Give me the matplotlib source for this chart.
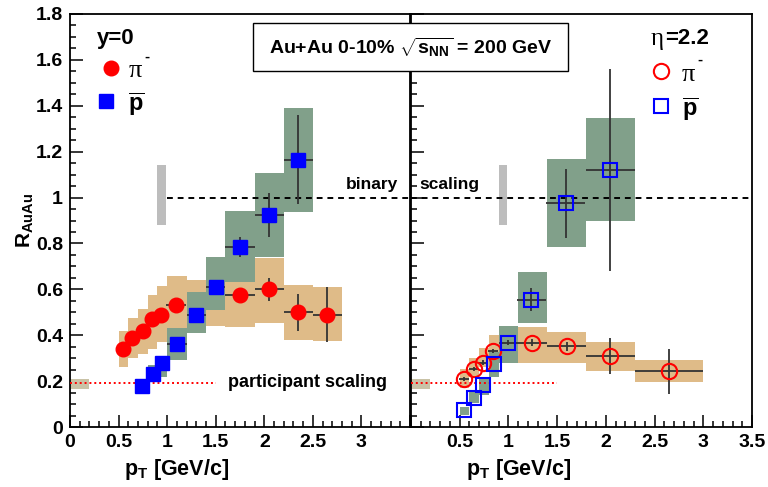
import numpy as np
import matplotlib
matplotlib.use('Agg')
import matplotlib.pyplot as plt
from matplotlib.patches import Rectangle

plt.rcParams['font.family'] = ['Liberation Sans', 'DejaVu Sans']
plt.rcParams['font.weight'] = 'bold'
plt.rcParams['mathtext.fontset'] = 'custom'
plt.rcParams['mathtext.rm'] = 'Liberation Sans:bold'
plt.rcParams['mathtext.bf'] = 'Liberation Sans:bold'
plt.rcParams['mathtext.it'] = 'Liberation Sans:bold'

# ---- y=0 (left panel) ----
pi0_pt = [0.55, 0.64, 0.75, 0.84, 0.94, 1.09, 1.75, 2.05, 2.35, 2.65]
pi0_r = [0.34, 0.39, 0.42, 0.47, 0.49, 0.53, 0.575, 0.60, 0.50, 0.49]
pi0_xerr = [0.05, 0.05, 0.05, 0.05, 0.05, 0.1, 0.15, 0.15, 0.15, 0.15]
pi0_yerr = [0.01, 0.01, 0.01, 0.01, 0.01, 0.015, 0.01, 0.05, 0.08, 0.12]
pi0_sys_xlo = [0.5, 0.6, 0.7, 0.8, 0.9, 1.0, 1.2, 1.6, 1.9, 2.2, 2.5]
pi0_sys_xhi = [0.6, 0.7, 0.8, 0.9, 1.0, 1.2, 1.6, 1.9, 2.2, 2.5, 2.8]
pi0_sys_ylo = [0.26, 0.30, 0.32, 0.34, 0.37, 0.39, 0.44, 0.435, 0.455, 0.38, 0.375]
pi0_sys_yhi = [0.42, 0.475, 0.515, 0.575, 0.615, 0.66, 0.64, 0.63, 0.735, 0.62, 0.61]

pb0_pt = [0.74, 0.85, 0.95, 1.10, 1.30, 1.50, 1.75, 2.05, 2.35]
pb0_r = [0.18, 0.23, 0.28, 0.36, 0.49, 0.61, 0.785, 0.925, 1.165]
pb0_xerr = [0.05, 0.05, 0.05, 0.1, 0.1, 0.1, 0.15, 0.15, 0.15]
pb0_yerr = [0.01, 0.01, 0.01, 0.015, 0.02, 0.02, 0.045, 0.095, 0.195]
pb0_sys_xlo = [0.7, 0.8, 0.9, 1.0, 1.2, 1.4, 1.6, 1.9, 2.2]
pb0_sys_xhi = [0.8, 0.9, 1.0, 1.2, 1.4, 1.6, 1.9, 2.2, 2.5]
pb0_sys_ylo = [0.16, 0.20, 0.22, 0.29, 0.41, 0.51, 0.63, 0.74, 0.935]
pb0_sys_yhi = [0.20, 0.27, 0.29, 0.43, 0.59, 0.74, 0.94, 1.105, 1.39]

# ---- eta=2.2 (right panel) ----
pi2_pt = [0.545, 0.65, 0.74, 0.845, 1.245, 1.60, 2.045, 2.65]
pi2_r = [0.21, 0.253, 0.281, 0.332, 0.367, 0.351, 0.311, 0.242]
pi2_xerr = [0.05, 0.05, 0.05, 0.05, 0.15, 0.2, 0.25, 0.35]
pi2_yerr = [0.01, 0.01, 0.01, 0.01, 0.015, 0.02, 0.078, 0.098]
pi2_sys_xlo = [0.5, 0.6, 0.7, 0.8, 1.1, 1.4, 1.8, 2.3]
pi2_sys_xhi = [0.6, 0.7, 0.8, 0.9, 1.4, 1.8, 2.3, 3.0]
pi2_sys_ylo = [0.17, 0.22, 0.26, 0.285, 0.28, 0.28, 0.246, 0.194]
pi2_sys_yhi = [0.252, 0.30, 0.344, 0.40, 0.438, 0.416, 0.37, 0.29]

pb2_pt = [0.54, 0.65, 0.74, 0.85, 1.0, 1.235, 1.59, 2.045]
pb2_r = [0.074, 0.128, 0.183, 0.275, 0.368, 0.555, 0.975, 1.12]
pb2_xerr = [0.0, 0.0, 0.0, 0.0, 0.1, 0.15, 0.2, 0.25]
pb2_yerr = [0.0, 0.0, 0.0, 0.0, 0.01, 0.05, 0.15, 0.44]
pb2_sys_xlo = [0.5, 0.6, 0.7, 0.8, 0.9, 1.1, 1.4, 1.8]
pb2_sys_xhi = [0.6, 0.7, 0.8, 0.9, 1.1, 1.4, 1.8, 2.3]
pb2_sys_ylo = [0.052, 0.103, 0.14, 0.22, 0.278, 0.453, 0.783, 0.90]
pb2_sys_yhi = [0.089, 0.154, 0.22, 0.329, 0.441, 0.674, 1.17, 1.348]

# normalisation uncertainties
ncoll_err = [0.88, 1.14]
npart_err = [0.165, 0.21]

tan = '#dfbb88'
green = '#81a08a'
grey = '#bdbdbd'
olive = '#c9c2a6'

fig = plt.figure(figsize=(7.68, 4.87), dpi=100)
axL = fig.add_axes([70/768, 60/487, 340/768, 413/487])
axR = fig.add_axes([411/768, 60/487, 341/768, 413/487])


def boxes(ax, xlo, xhi, ylo, yhi, color, z):
    for a, b, c, d in zip(xlo, xhi, ylo, yhi):
        ax.add_patch(Rectangle((a, c), b - a, d - c, facecolor=color,
                               edgecolor='none', zorder=z))


for ax in (axL, axR):
    ax.set_xlim(0, 3.5)
    ax.set_ylim(0, 1.8)
    ax.set_xticks(np.arange(0, 3.51, 0.5))
    ax.set_xticks(np.arange(0, 3.51, 0.1), minor=True)
    ax.set_yticks(np.arange(0, 1.81, 0.2))
    ax.set_yticks(np.arange(0, 1.81, 0.05), minor=True)
    ax.tick_params(which='major', direction='in', length=9, width=1.1,
                   labelsize=14, pad=5, top=False, right=False)
    ax.tick_params(which='minor', direction='in', length=4.5, width=1.1,
                   top=False, right=False)
    for s in ax.spines.values():
        s.set_linewidth(1.3)
    # normalisation boxes
    ax.add_patch(Rectangle((0.9, ncoll_err[0]), 0.09, ncoll_err[1] - ncoll_err[0],
                           facecolor=grey, edgecolor='none', zorder=2))
    ax.add_patch(Rectangle((0.0, npart_err[0]), 0.2, npart_err[1] - npart_err[0],
                           facecolor=olive, edgecolor='none', zorder=2))
    ax.plot([0, 1.5], [0.19, 0.19], ls=(0, (1, 1.5)), color='red', lw=1.4, zorder=3)

axL.plot([1.0, 3.5], [1, 1], ls=(0, (3, 2.5)), color='black', lw=1.4, zorder=3)
axR.plot([0.0, 3.5], [1, 1], ls=(0, (3, 2.5)), color='black', lw=1.4, zorder=3)

# left panel
boxes(axL, pi0_sys_xlo, pi0_sys_xhi, pi0_sys_ylo, pi0_sys_yhi, tan, 1)
boxes(axL, pb0_sys_xlo, pb0_sys_xhi, pb0_sys_ylo, pb0_sys_yhi, green, 1.5)
axL.errorbar(pi0_pt, pi0_r, xerr=pi0_xerr, yerr=pi0_yerr, fmt='o', ms=10.5,
             color='red', mec='red', ecolor='#333333', elinewidth=1.3, capsize=0, zorder=4)
axL.errorbar(pb0_pt, pb0_r, xerr=pb0_xerr, yerr=pb0_yerr, fmt='s', ms=10,
             color='blue', mec='blue', ecolor='#333333', elinewidth=1.3, capsize=0, zorder=5)

# right panel
boxes(axR, pi2_sys_xlo, pi2_sys_xhi, pi2_sys_ylo, pi2_sys_yhi, tan, 1)
boxes(axR, pb2_sys_xlo, pb2_sys_xhi, pb2_sys_ylo, pb2_sys_yhi, green, 1.5)
axR.errorbar(pi2_pt, pi2_r, xerr=pi2_xerr, yerr=pi2_yerr, fmt='o', ms=11,
             mfc='none', mec='red', mew=1.5, ecolor='#333333', elinewidth=1.3,
             capsize=0, zorder=4)
axR.errorbar(pb2_pt, pb2_r, xerr=pb2_xerr, yerr=pb2_yerr, fmt='s', ms=10,
             mfc='none', mec='blue', mew=1.5, ecolor='#333333', elinewidth=1.3,
             capsize=0, zorder=5)

# tick labels
axL.set_xticklabels(['0', '0.5', '1', '1.5', '2', '2.5', '3', ''])
axR.set_xticklabels(['', '0.5', '1', '1.5', '2', '2.5', '3', '3.5'])
axL.set_yticklabels(['0', '0.2', '0.4', '0.6', '0.8', '1', '1.2', '1.4', '1.6', '1.8'])
axR.set_yticklabels([])

# axis titles
for ax in (axL, axR):
    ax.set_xlabel(r'$\mathbf{p_{T}}$ [GeV/c]', fontsize=15.5, fontweight='bold')
    ax.xaxis.set_label_coords(0.315, -0.072)
axL.set_ylabel(r'$\mathbf{R_{AuAu}}$', fontsize=15)
axL.yaxis.set_label_coords(-0.10, 0.50)

# annotations
axL.text(2.84, 1.025, 'binary', fontsize=12.5, fontweight='bold', va='bottom')
axR.text(0.09, 1.025, 'scaling', fontsize=12.5, fontweight='bold', va='bottom')
axL.text(1.63, 0.195, 'participant scaling', fontsize=13, fontweight='bold',
         va='center')

# legends
axL.text(0.08, 0.94, 'y=0', transform=axL.transAxes, fontsize=16,
         fontweight='bold', va='center')
axL.plot([0.122], [0.869], 'o', ms=10.5, color='red', transform=axL.transAxes, clip_on=False)
axL.text(0.172, 0.862, 'π', transform=axL.transAxes, family='Liberation Serif',
         fontsize=19, va='center', fontweight='normal')
axL.text(0.218, 0.897, '-', transform=axL.transAxes, fontsize=11, va='center')
axL.plot([0.107], [0.789], 's', ms=10, color='blue', transform=axL.transAxes, clip_on=False)
axL.text(0.172, 0.78, r'$\mathbf{\overline{p}}$', transform=axL.transAxes,
         fontsize=17, va='center')

axR.text(0.703, 0.94, 'η', transform=axR.transAxes, family='Liberation Serif',
         fontsize=18, va='center', fontweight='normal')
axR.text(0.746, 0.94, '=2.2', transform=axR.transAxes, fontsize=16,
         fontweight='bold', va='center')
axR.plot([0.733], [0.862], 'o', ms=11, mfc='none', mec='red', mew=1.5,
         transform=axR.transAxes, clip_on=False)
axR.text(0.795, 0.853, 'π', transform=axR.transAxes, family='Liberation Serif',
         fontsize=19, va='center', fontweight='normal')
axR.text(0.841, 0.89, '-', transform=axR.transAxes, fontsize=11, va='center')
axR.plot([0.733], [0.778], 's', ms=10, mfc='none', mec='blue', mew=1.5,
         transform=axR.transAxes, clip_on=False)
axR.text(0.795, 0.768, r'$\mathbf{\overline{p}}$', transform=axR.transAxes,
         fontsize=17, va='center')

# title box
fig.patches.append(Rectangle((253/768, (487-71)/487), 315/768, 48/487,
                             transform=fig.transFigure, facecolor='white',
                             edgecolor='black', lw=1.0, zorder=10))
fig.text(410.5/768, (487-47)/487, r'Au+Au 0-10% $\sqrt{\mathbf{s_{NN}}}$ = 200 GeV',
         fontsize=14, fontweight='bold', ha='center', va='center', zorder=11)

fig.savefig('out.png', dpi=100)
